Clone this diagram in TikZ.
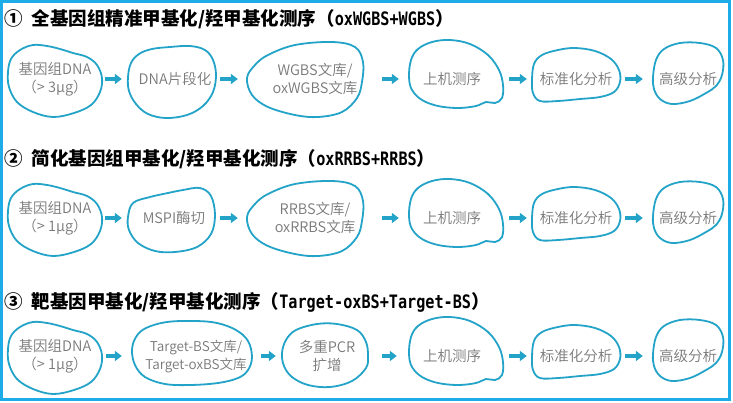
\documentclass[tikz,border=0pt]{standalone}
\usepackage{fontspec}
\setmainfont{Noto Sans CJK SC}
\IfFontExistsTF{Noto Sans CJK SC DemiLight}{\newfontfamily\blobfont{Noto Sans CJK SC DemiLight}}{\newfontfamily\blobfont{Noto Sans CJK SC}}
\newfontfamily\tmono[FakeStretch=0.82]{DejaVu Sans Mono}
\usetikzlibrary{arrows.meta}
\definecolor{blobc}{RGB}{35,163,200}
\definecolor{framec}{RGB}{30,172,232}
\definecolor{txtc}{RGB}{120,120,120}
\tikzset{
  blob/.style={draw=blobc, line width=1.8pt},
  lbl/.style={font=\blobfont\fontsize{14.5}{18.5}\selectfont, text=txtc, align=center, inner sep=0pt, minimum height=20pt},
  ttl/.style={font=\bfseries\fontsize{18.5}{22}\selectfont, anchor=west, inner sep=0pt},
  arr/.style={draw=blobc, line width=3.2pt, -{Triangle[length=7pt,width=10pt]}},
  blobA/.pic={\draw[blob] plot[smooth cycle, tension=0.6] coordinates {(8,72) (11,59) (20,50) (33,45) (47,46) (60,49) (73,53) (87,57) (97,65) (102,78) (100,92) (91,105) (74,113) (53,117) (33,112) (17,102) (9,87)};},
  blobB/.pic={\draw[blob] plot[smooth cycle, tension=0.6] coordinates {(128,77) (131,63) (139,54) (152,49) (170,47) (190,46) (205,50) (213,60) (216,75) (213,92) (203,106) (187,115) (166,118) (148,114) (136,104) (129,91)};},
  blobBb/.pic={\draw[blob] plot[smooth cycle, tension=0.6] coordinates {(128,217) (133,203) (150,197) (168,193) (183,190) (200,188) (211,196) (215,215) (211,234) (197,247) (175,252) (155,251) (138,243) (129,230)};},
  blobC/.pic={\draw[blob] plot[smooth cycle, tension=0.6] coordinates {(247,78) (255,65) (268,55) (295,45) (332,42) (355,47) (363,62) (362,82) (357,98) (342,112) (318,117) (295,115) (268,107) (252,95)};},
  blobD/.pic={\draw[blob] plot[smooth cycle, tension=0.6] coordinates {(409,77) (411,60) (418,49) (432,42) (450,40) (470,44) (488,55) (499,70) (503,85) (502,98) (495,103) (486,102) (476,106) (458,108) (438,106) (422,100) (412,90)};},
  blobE/.pic={\draw[blob] plot[smooth cycle, tension=0.6] coordinates {(532,80) (534,64) (542,55) (558,50) (575,48) (595,51) (611,59) (619,70) (620,82) (614,92) (600,97) (580,99) (558,101) (540,101) (533,93)};},
  blobF/.pic={\draw[blob] plot[smooth cycle, tension=0.6] coordinates {(653,77) (656,60) (664,49) (680,43) (700,43) (716,48) (723,60) (722,75) (716,86) (706,93) (690,101) (672,104) (660,99) (654,89)};},
  blobTB/.pic={\draw[blob] plot[smooth cycle, tension=0.6] coordinates {(132,350) (136,337) (146,328) (167,322) (195,321) (217,323) (236,330) (248,341) (252,357) (248,370) (238,378) (218,383) (190,385) (165,384) (145,377) (135,365)};},
  blobPCR/.pic={\draw[blob] plot[smooth cycle, tension=0.6] coordinates {(282,353) (286,340) (296,330) (317,324) (337,324) (357,330) (366,342) (368,356) (366,368) (352,381) (330,387) (308,385) (292,377) (284,366)};},
}
\begin{document}
\begin{tikzpicture}[x=1pt,y=-1pt]
\path[use as bounding box] (0,0) rectangle (733,402);
\draw[draw=framec, line width=3pt] (1.5,1.5) rectangle (729.5,399.5);

% titles
\node[ttl] (t1) at (4,19) {①\hspace{9pt}全基因组精准甲基化/羟甲基化测序（{\tmono oxWGBS+WGBS}）};
\node[ttl] (t2) at (4,159) {②\hspace{9pt}简化基因组甲基化/羟甲基化测序（{\tmono oxRRBS+RRBS}）};
\node[ttl] (t3) at (4,302) {③\hspace{9pt}靶基因甲基化/羟甲基化测序（{\tmono Target-oxBS+Target-BS}）};

% blob outlines
\pic at (0,0) {blobA}; \pic at (0,0) {blobB}; \pic at (0,0) {blobC};
\pic at (0,0) {blobD}; \pic at (0,0) {blobE}; \pic at (0,0) {blobF};
\pic at (0,139) {blobA}; \pic at (0,0) {blobBb}; \pic at (0,139) {blobC};
\pic at (0,139) {blobD}; \pic at (0,139) {blobE}; \pic at (0,139) {blobF};
\pic at (0,277) {blobA}; \pic at (0,0) {blobTB}; \pic at (0,0) {blobPCR};
\pic at (0,277) {blobD}; \pic at (0,277) {blobE}; \pic at (0,277) {blobF};

% row 1 nodes
\node[lbl, minimum width=94pt] (r1a) at (55,79) {基因组DNA\\（> 3μg）};
\node[lbl, minimum width=82pt] (r1b) at (175,79) {DNA片段化};
\node[lbl, minimum width=96pt] (r1c) at (315,79) {WGBS文库/\\oxWGBS文库};
\node[lbl, minimum width=96pt] (r1d) at (452,79) {上机测序};
\node[lbl, minimum width=88pt] (r1e) at (576,79) {标准化分析};
\node[lbl, minimum width=70pt] (r1f) at (688,79) {高级分析};
% row 2 nodes
\node[lbl, minimum width=94pt] (r2a) at (55,218) {基因组DNA\\（> 1μg）};
\node[lbl, minimum width=86pt] (r2b) at (174,218) {MSPI酶切};
\node[lbl, minimum width=96pt] (r2c) at (315,218) {RRBS文库/\\oxRRBS文库};
\node[lbl, minimum width=96pt] (r2d) at (452,218) {上机测序};
\node[lbl, minimum width=88pt] (r2e) at (576,218) {标准化分析};
\node[lbl, minimum width=70pt] (r2f) at (688,218) {高级分析};
% row 3 nodes
\node[lbl, minimum width=94pt] (r3a) at (55,356) {基因组DNA\\（> 1μg）};
\node[lbl, minimum width=126pt, font=\blobfont\fontsize{13.5}{18}\selectfont] (r3b) at (196,356) {Target-BS文库/\\Target-oxBS文库};
\node[lbl, minimum width=90pt] (r3c) at (327,356) {多重PCR\\扩增};
\node[lbl, minimum width=96pt] (r3d) at (452,356) {上机测序};
\node[lbl, minimum width=88pt] (r3e) at (576,356) {标准化分析};
\node[lbl, minimum width=70pt] (r3f) at (688,356) {高级分析};

% arrows
\draw[arr, shorten <=3pt, shorten >=12pt] (r1a.east) -- (r1b.west);
\draw[arr, shorten <=4pt, shorten >=29pt] (r1b.east) -- (r1c.west);
\draw[arr, shorten <=19pt, shorten >=5pt] (r1c.east) -- (r1d.west);
\draw[arr, shorten <=9pt, shorten >=5pt] (r1d.east) -- (r1e.west);
\draw[arr, shorten <=5pt, shorten >=10pt] (r1e.east) -- (r1f.west);

\draw[arr, shorten <=3pt, shorten >=9pt] (r2a.east) -- (r2b.west);
\draw[arr, shorten <=3pt, shorten >=29pt] (r2b.east) -- (r2c.west);
\draw[arr, shorten <=19pt, shorten >=5pt] (r2c.east) -- (r2d.west);
\draw[arr, shorten <=9pt, shorten >=5pt] (r2d.east) -- (r2e.west);
\draw[arr, shorten <=5pt, shorten >=10pt] (r2e.east) -- (r2f.west);

\draw[arr, shorten <=4pt, shorten >=11pt] (r3a.east) -- (r3b.west);
\draw[arr, shorten <=2pt, shorten >=6pt] (r3b.east) -- (r3c.west);
\draw[arr, shorten <=10pt, shorten >=7pt] (r3c.east) -- (r3d.west);
\draw[arr, shorten <=9pt, shorten >=5pt] (r3d.east) -- (r3e.west);
\draw[arr, shorten <=5pt, shorten >=10pt] (r3e.east) -- (r3f.west);
\end{tikzpicture}
\end{document}
